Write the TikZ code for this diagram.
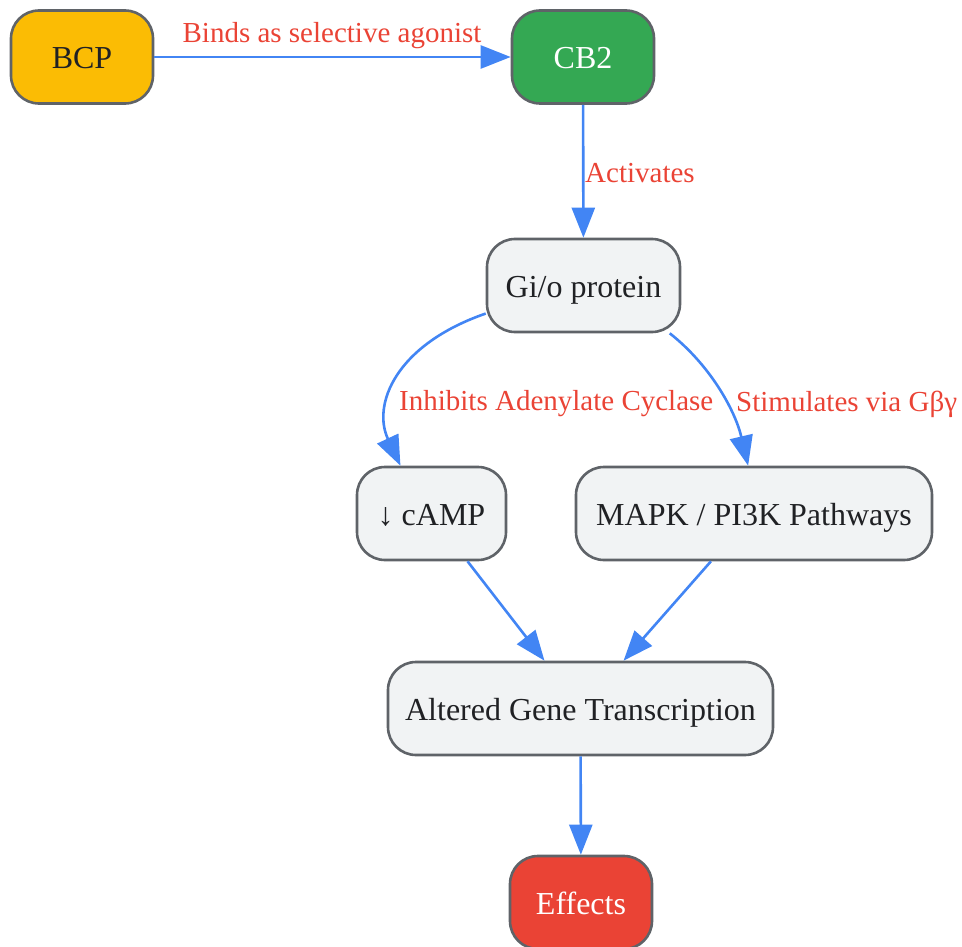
\documentclass[tikz,border=0pt]{standalone}
\usepackage{fontspec}
\setmainfont{Liberation Serif}
\usetikzlibrary{arrows.meta}
\definecolor{gyellow}{HTML}{FBBC04}
\definecolor{ggreen}{HTML}{34A853}
\definecolor{gred}{HTML}{EA4335}
\definecolor{ggray}{HTML}{F1F3F4}
\definecolor{gborder}{HTML}{5F6368}
\definecolor{gtext}{HTML}{202124}
\definecolor{gblue}{HTML}{4285F4}
\tikzset{
  box/.style={draw=gborder, line width=2.6pt, rounded corners=28pt, fill=ggray,
    text=gtext, minimum height=93pt, inner sep=0pt, align=center,
    text height=23pt, text depth=0pt,
    font=\fontsize{32}{36}\selectfont},
  conn/.style={draw=gblue, line width=2.6pt, -{Triangle[length=30pt,width=23pt]}},
  elabel/.style={text=gred, inner sep=0pt, font=\fontsize{29}{33}\selectfont}
}
\begin{document}
\begin{tikzpicture}[x=1pt,y=1pt]
\useasboundingbox (0,0) rectangle (962,-947);
\node[box, fill=gyellow, minimum width=142pt] (bcp) at (82,-57) {BCP};
\node[box, fill=ggreen, text=white, minimum width=142pt] (cb2) at (583,-57) {CB2};
\node[box, minimum width=193pt] (gi) at (583.5,-285.5) {Gi/o protein};
\node[box, minimum width=149pt] (camp) at (431.5,-513.5) {↓ cAMP};
\node[box, minimum width=356pt] (mapk) at (754,-513.5) {MAPK / PI3K Pathways};
\node[box, minimum width=385pt] (agt) at (580.5,-708.5) {Altered Gene Transcription};
\node[box, fill=gred, text=white, minimum width=142pt] (eff) at (581,-902.5) {Effects};

\draw[conn] (bcp) -- (cb2);
\draw[conn] (cb2) -- (gi);
\draw[conn] (gi.196) .. controls (395,-345) and (372,-405) .. (camp.123);
\draw[conn] (gi.-29.3) .. controls (710,-365) and (735,-410) .. (mapk.97.2);
\draw[conn] (camp.-53.2) -- (agt.127);
\draw[conn] (mapk.228.5) -- (agt.48.7);
\draw[conn] (agt) -- (eff);

\node[elabel] (l1) at (332,-36) {Binds as selective agonist};
\node[elabel, anchor=west] (l2) at (585,-173) {Activates};
\node[elabel, anchor=west] (l3) at (399,-404) {Inhibits Adenylate Cyclase};
\node[elabel, anchor=west] (l4) at (736,-404) {Stimulates via Gβγ};
\end{tikzpicture}
\end{document}
